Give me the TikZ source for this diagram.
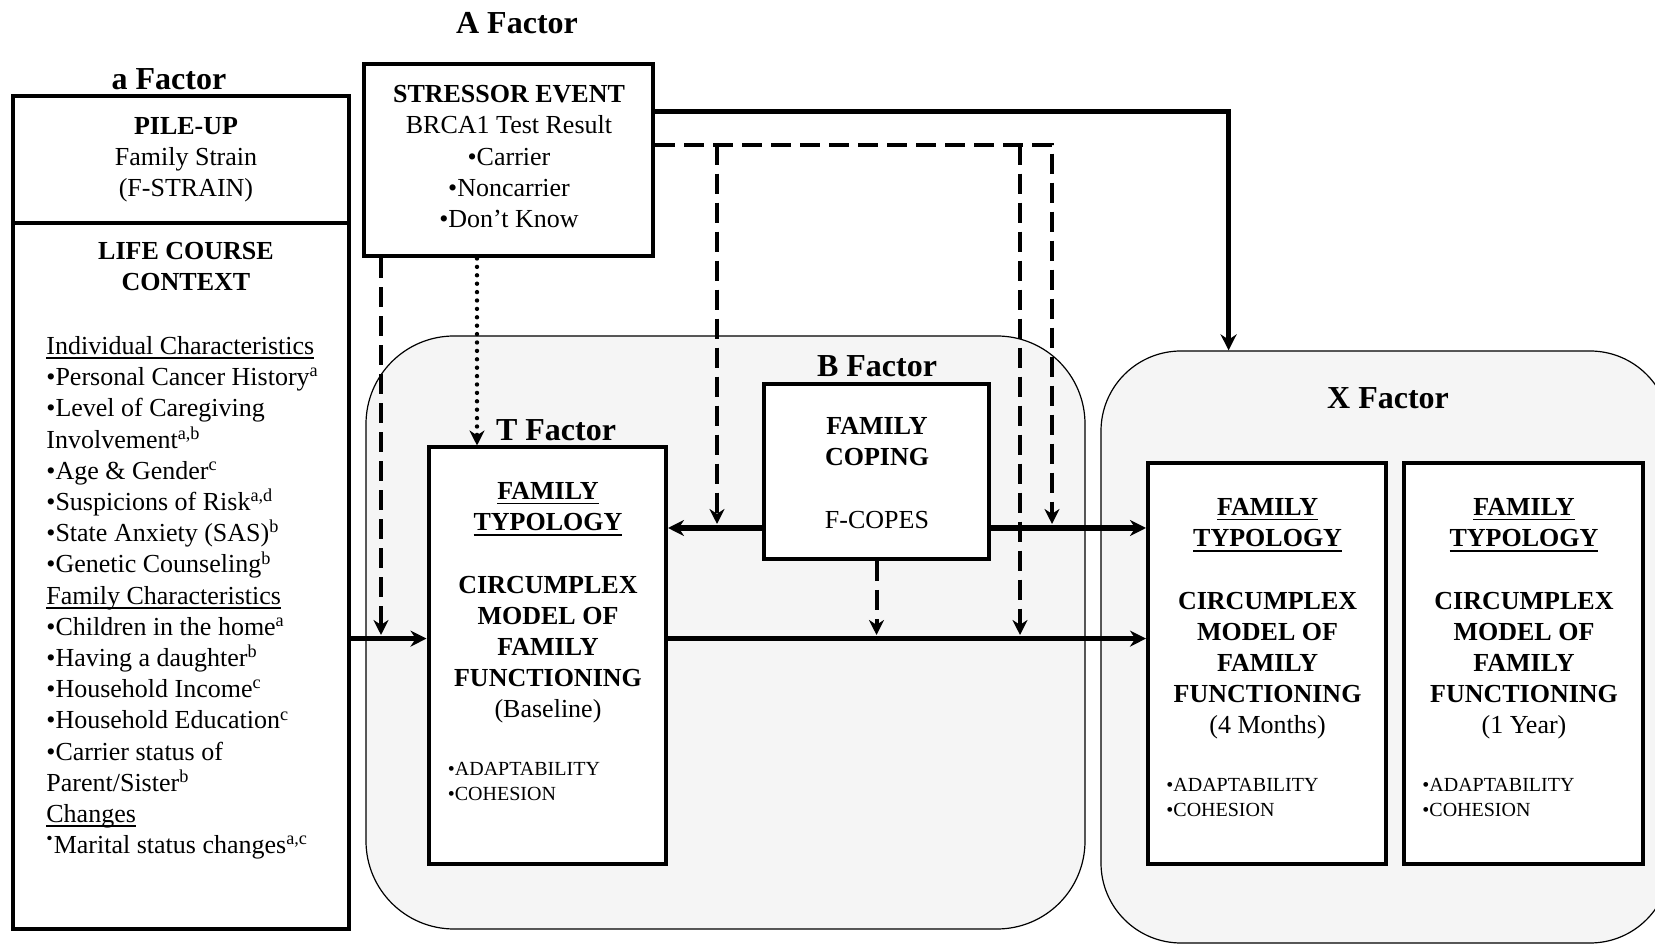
\documentclass[tikz,border=0pt]{standalone}
\usepackage{fontspec}
\setmainfont{Liberation Serif}
\usetikzlibrary{arrows.meta}
\newsavebox\ulbox
\newcommand\myul[1]{\sbox\ulbox{#1}\rlap{\rule[-2.4pt]{\wd\ulbox}{0.9pt}}\usebox\ulbox}
\begin{document}
\begin{tikzpicture}[x=0.5pt,y=-0.5pt,
  box/.style={draw,line width=2pt,fill=white,inner sep=0pt},
  grp/.style={draw,line width=0.6pt,fill=black!4,inner sep=0pt},
  hd/.style={font=\fontsize{16}{19}\selectfont\bfseries,inner sep=0pt},
  txt/.style={font=\fontsize{13}{15.6}\selectfont,inner sep=0pt,align=center,anchor=north},
  lst/.style={font=\fontsize{13}{15.6}\selectfont,inner sep=0pt,align=left,anchor=north west},
  sm/.style={font=\fontsize{10}{12.5}\selectfont,inner sep=0pt,align=left,anchor=north west},
  solidarr/.style={line width=2.6pt,-{Stealth[length=8pt,width=8pt]}},
  dasharr/.style={line width=2pt,dash pattern=on 10pt off 4.5pt,-{Stealth[length=7.5pt,width=7.5pt]}},
  dotarr/.style={line width=2.2pt,line cap=round,dash pattern=on 0pt off 4.2pt,-{Stealth[length=7.5pt,width=7.5pt]}},
]
\useasboundingbox (0,0) rectangle (1655,945);
\clip (0,0) rectangle (1655,945);

% group backgrounds
\node[grp,rounded corners=44pt,minimum width=359.5pt,minimum height=296.5pt] (tb) at (725.5,632.5) {};
\node[grp,rounded corners=40pt,minimum width=284.5pt,minimum height=296pt] (xg) at (1385.5,647) {};

% headings
\node[hd] (hA) at (517,23) {A Factor};
\node[hd] (ha) at (169,79) {a Factor};
\node[hd] (hB) at (877,366) {B Factor};
\node[hd] (hT) at (556,430) {T Factor};
\node[hd] (hX) at (1388,398) {X Factor};

% boxes
\node[box,minimum width=168pt,minimum height=416.5pt] (lbox) at (181,512.5) {};
\draw[line width=2pt] (lbox.west |- 0,223) -- (lbox.east |- 0,223);
\node[box,minimum width=144.5pt,minimum height=96.25pt] (se) at (508.5,160.25) {};
\node[box,minimum width=118.75pt,minimum height=208.5pt] (tbox) at (547.25,656) {};
\node[box,minimum width=112.5pt,minimum height=87.5pt] (bc) at (876.5,471.5) {};
\node[box,minimum width=119pt,minimum height=200.75pt] (x1) at (1267,663.75) {};
\node[box,minimum width=119.5pt,minimum height=200.75pt] (x2) at (1523.5,663.75) {};

% texts
\node[txt] (tpile) at (186,117) {\textbf{PILE-UP}\\Family Strain\\(F-STRAIN)};
\node[txt] (tlife) at (186,242) {\textbf{LIFE COURSE}\\\textbf{CONTEXT}};
\node[lst] (tlist) at (46,336) {\myul{Individual Characteristics}\\
•Personal Cancer History\textsuperscript{a}\\
•Level of Caregiving\\
Involvement\textsuperscript{a,b}\\
•Age \& Gender\textsuperscript{c}\\
•Suspicions of Risk\textsuperscript{a,d}\\
•State Anxiety (SAS)\textsuperscript{b}\\
•Genetic Counseling\textsuperscript{b}\\
\myul{Family Characteristics}\\
•Children in the home\textsuperscript{a}\\
•Having a daughter\textsuperscript{b}\\
•Household Income\textsuperscript{c}\\
•Household Education\textsuperscript{c}\\
•Carrier status of\\
Parent/Sister\textsuperscript{b}\\
\myul{Changes}\\
\textsuperscript{•}Marital status changes\textsuperscript{a,c}};
\node[txt] (tse) at (509,85) {\textbf{STRESSOR EVENT}\\BRCA1 Test Result\\•Carrier\\•Noncarrier\\•Don’t Know};
\node[txt,font=\fontsize{13}{15.6}\selectfont\bfseries] (ttb) at (548,482) {\myul{FAMILY}\\\myul{TYPOLOGY}\\[15.6pt]CIRCUMPLEX\\MODEL OF\\FAMILY\\FUNCTIONING\\\textnormal{(Baseline)}};
\node[txt,font=\fontsize{13}{15.6}\selectfont\bfseries] (tbc) at (877,417) {FAMILY\\COPING\\[15.6pt]\textnormal{F-COPES}};
\node[txt,font=\fontsize{13}{15.6}\selectfont\bfseries] (tx1) at (1267.6,498) {\myul{FAMILY}\\\myul{TYPOLOGY}\\[15.6pt]CIRCUMPLEX\\MODEL OF\\FAMILY\\FUNCTIONING\\\textnormal{(4 Months)}};
\node[txt,font=\fontsize{13}{15.6}\selectfont\bfseries] (tx2) at (1524,498) {\myul{FAMILY}\\\myul{TYPOLOGY}\\[15.6pt]CIRCUMPLEX\\MODEL OF\\FAMILY\\FUNCTIONING\\\textnormal{(1 Year)}};
\node[sm] (stb) at (447.5,761.5) {•ADAPTABILITY\\•COHESION};
\node[sm] (sx1) at (1166,777.5) {•ADAPTABILITY\\•COHESION};
\node[sm] (sx2) at (1422,777.5) {•ADAPTABILITY\\•COHESION};

% coordinates
\coordinate (yU) at (0,528);
\coordinate (yL) at (0,638.6);
\coordinate (yUa) at (0,524);
\coordinate (yLa) at (0,635);
\coordinate (ytop) at (0,111.7);
\coordinate (ydash) at (0,144.6);
\coordinate (c381) at (381,0);
\coordinate (c477) at (477,0);
\coordinate (c717) at (717,0);
\coordinate (c1020) at (1020,0);
\coordinate (c1052) at (1052,0);
\coordinate (c1228) at (1228.6,0);

% solid arrows
\draw[solidarr] (se.east |- ytop) -| (c1228 |- xg.north);
\draw[solidarr] (lbox.east |- yL) -- (tbox.west |- yL);
\draw[solidarr] (tbox.east |- yL) -- (x1.west |- yL);
\draw[solidarr] (bc.west |- yU) -- (tbox.east |- yU);
\draw[solidarr] (bc.east |- yU) -- (x1.west |- yU);

% dashed arrows
\draw[dasharr] (se.east |- ydash) -| (c1052 |- yUa);
\draw[dasharr] (c717 |- ydash) -- (c717 |- yUa);
\draw[dasharr] (c1020 |- ydash) -- (c1020 |- yLa);
\draw[dasharr] (c381 |- se.south) -- (c381 |- yLa);
\draw[dasharr] (bc.south) -- (bc.south |- yLa);
\draw[dotarr] (c477 |- se.south) -- (c477 |- tbox.north);
\end{tikzpicture}
\end{document}
